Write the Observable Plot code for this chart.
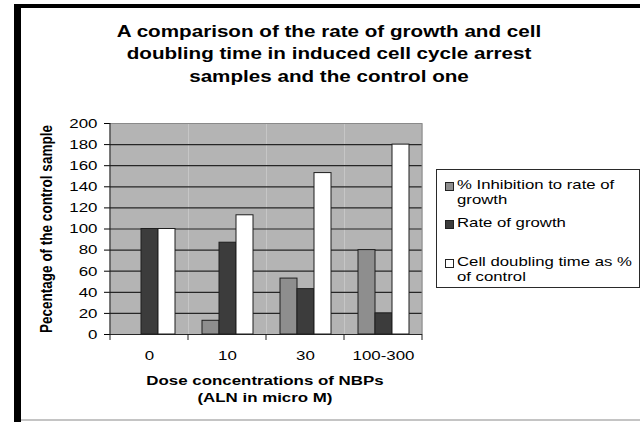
<!DOCTYPE html>
<html>
<head>
<meta charset="utf-8">
<script src="https://cdn.jsdelivr.net/npm/d3@7"></script>
<script src="https://cdn.jsdelivr.net/npm/@observablehq/plot@0.6"></script>
<style>
  body { margin: 0; background: #fff; }
  #chart { position: relative; width: 640px; height: 422px; overflow: hidden; background: #fff;
           font-family: "Liberation Sans", Arial, sans-serif; color: #000; }
  #chart svg { position: absolute; left: 0; top: 0; }
  .abs { position: absolute; white-space: nowrap; }
  .wide { display: inline-block; transform-origin: left center; }
</style>
</head>
<body>
<div id="chart"></div>
<script>
// Dose groups on the x axis
const doses = ["0", "10", "30", "100-300"];
// Series, in drawing order within each dose group
const seriesNames = ["% Inhibition to rate of growth", "Rate of growth", "Cell doubling time as % of control"];
const inhibition   = [0, 13, 53, 80];
const growthRate   = [100, 87, 43, 20];
const doublingTime = [100, 113, 153, 180];
const yTicks = [0, 20, 40, 60, 80, 100, 120, 140, 160, 180, 200];
const seriesColors = ["#8e8e8e", "#3c3c3c", "#ffffff"];

const titleLines = [
  "A comparison of the rate of growth and cell",
  "doubling time in induced cell cycle arrest",
  "samples and the control one"
];
const xTitleLines = ["Dose concentrations of NBPs", "(ALN in micro M)"];
const yTitle = "Pecentage of the control sample";

// horizontal stretch applied to all horizontal text
const SX = 1.25;

const seriesValues = [inhibition, growthRate, doublingTime];
const rows = doses.flatMap((dose, i) =>
  seriesNames.map((series, j) => ({dose, series, value: seriesValues[j][i]}))
);

const W = 640, H = 422;
const margin = {top: 123, right: 217, bottom: 88, left: 108};

const chart = Plot.plot({
  width: W,
  height: H,
  marginTop: margin.top,
  marginRight: margin.right,
  marginBottom: margin.bottom,
  marginLeft: margin.left,
  style: {background: "transparent", fontFamily: "'Liberation Sans', Arial, sans-serif", fontSize: "13.5px", color: "#000"},
  facet: {data: rows, x: "dose"},
  fx: {domain: doses, padding: 0, label: null, tickSize: 0, tickPadding: 16},
  x: {domain: seriesNames, paddingInner: 0, paddingOuter: 0.75, axis: null},
  y: {domain: [0, 200], ticks: yTicks, tickSize: 6, tickPadding: 7, label: null},
  color: {domain: seriesNames, range: seriesColors},
  marks: [
    Plot.frame({fill: "#b4b4b4", stroke: "none"}),
    Plot.ruleY(yTicks.filter(v => v < 200), {stroke: "#262626", strokeWidth: 1.2}),
    Plot.ruleY([200], {stroke: "#8a8a8a"}),
    Plot.barY(rows, {x: "series", y: "value", fill: "series", stroke: "#1e1e1e", strokeWidth: 1})
  ]
});

const root = document.getElementById("chart");
root.appendChild(chart);

// Axis line on the left, plot-area edge on the right, and group boundary ticks
const svg = d3.select(chart);
const fxs = chart.scale("fx");
const ys = chart.scale("y");
const y0 = ys.apply(0), yTop = ys.apply(200);
const edges = fxs.domain.map(d => fxs.apply(d));
edges.push(edges[edges.length - 1] + fxs.bandwidth);
const g = svg.append("g");
g.append("line").attr("x1", edges[edges.length - 1]).attr("x2", edges[edges.length - 1])
  .attr("y1", yTop).attr("y2", y0).attr("stroke", "#8a8a8a");
g.append("line").attr("x1", edges[0]).attr("x2", edges[0])
  .attr("y1", yTop).attr("y2", y0).attr("stroke", "#1e1e1e").attr("stroke-width", 1.2);
g.selectAll(".edge").data(edges).join("line")
  .attr("x1", d => d).attr("x2", d => d)
  .attr("y1", y0).attr("y2", y0 + 6)
  .attr("stroke", "#1e1e1e");

// Widen tick labels
svg.selectAll("text").each(function () {
  const w = this.getComputedTextLength();
  this.setAttribute("textLength", w * SX);
  this.setAttribute("lengthAdjust", "spacingAndGlyphs");
});

// Frame bands around the chart area
function box(left, top, width, height, color) {
  const d = document.createElement("div");
  Object.assign(d.style, {position: "absolute", left: left + "px", top: top + "px",
    width: width + "px", height: height + "px", background: color});
  root.appendChild(d);
}
box(14, 4, 7, 418, "#000");
box(14, 4, 626, 4, "#000");
box(21, 419, 619, 2, "#c4c4c4");

// Title
const title = document.createElement("div");
Object.assign(title.style, {position: "absolute", left: "79px", top: "20px", width: "500px",
  textAlign: "center", fontWeight: "bold", fontSize: "16.5px", lineHeight: "22.3px",
  transform: `scaleX(${SX})`, transformOrigin: "center"});
title.innerHTML = titleLines.join("<br>");
root.appendChild(title);

// X axis title
const xTitle = document.createElement("div");
Object.assign(xTitle.style, {position: "absolute", left: (265 - 150) + "px", top: "372px", width: "300px",
  textAlign: "center", fontWeight: "bold", fontSize: "13.5px", lineHeight: "17px",
  transform: `scaleX(${SX})`, transformOrigin: "center"});
xTitle.innerHTML = xTitleLines.join("<br>");
root.appendChild(xTitle);

// Y axis title
const yT = document.createElement("div");
Object.assign(yT.style, {position: "absolute", left: "47px", top: "229px", whiteSpace: "nowrap",
  fontWeight: "bold", fontSize: "13.5px", lineHeight: "16px",
  transform: `translate(-50%, -50%) scaleX(${SX}) rotate(-90deg)`, transformOrigin: "center"});
yT.textContent = yTitle;
root.appendChild(yT);

// Legend
const legend = document.createElement("div");
Object.assign(legend.style, {position: "absolute", left: "436px", top: "169px", width: "202px",
  height: "117px", border: "1px solid #2a2a2a", background: "#fff"});
root.appendChild(legend);
const itemTops = [6.6, 44.6, 83.6];
seriesNames.forEach((name, i) => {
  const sw = document.createElement("div");
  Object.assign(sw.style, {position: "absolute", left: "8px", top: (itemTops[i] + 5) + "px",
    width: "7px", height: "7px", border: "1px solid #222", background: seriesColors[i]});
  legend.appendChild(sw);
  const tx = document.createElement("div");
  Object.assign(tx.style, {position: "absolute", left: "20px", top: itemTops[i] + "px",
    width: "150px", fontSize: "13.4px", lineHeight: "15.5px",
    transform: `scaleX(${SX})`, transformOrigin: "left top"});
  tx.textContent = name;
  legend.appendChild(tx);
});
</script>
</body>
</html>
